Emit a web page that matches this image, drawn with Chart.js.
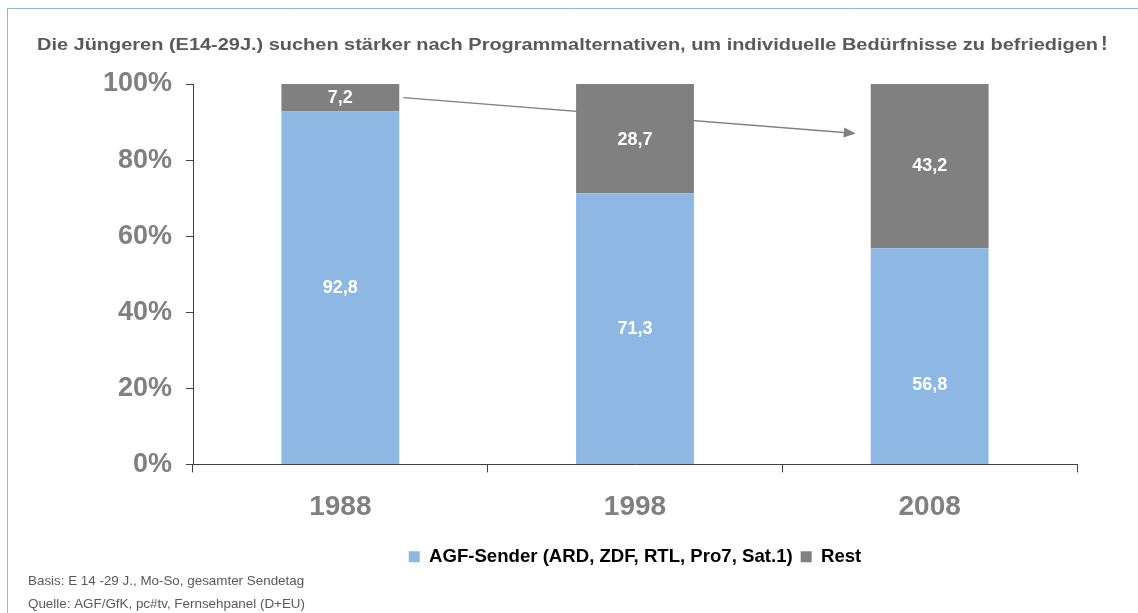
<!DOCTYPE html>
<html><head><meta charset="utf-8">
<script src="https://cdn.jsdelivr.net/npm/chart.js@4/dist/chart.umd.min.js"></script>
<style>html,body{margin:0;padding:0;background:#fff;}#wrap{width:1138px;height:613px;position:relative;}</style>
</head><body><div id="wrap"><canvas id="c" width="1138" height="613"></canvas></div>
<script>
const categories = ['1988', '1998', '2008'];
const agfValues = [92.8, 71.3, 56.8];
const restValues = [7.2, 28.7, 43.2];
const seriesNames = ['AGF-Sender (ARD, ZDF, RTL, Pro7, Sat.1)', 'Rest'];
const yTicks = [0, 20, 40, 60, 80, 100];
const titleText = 'Die Jüngeren (E14-29J.) suchen stärker nach Programmalternativen, um individuelle Bedürfnisse zu befriedigen';
const footnotes = ['Basis: E 14 -29 J., Mo-So, gesamter Sendetag', 'Quelle: AGF/GfK, pc#tv, Fernsehpanel (D+EU)'];

const FONT = '"Liberation Sans", Arial, sans-serif';

const decor = {
  id: 'decor',
  beforeDraw(chart) {
    const ctx = chart.ctx;
    ctx.save();
    ctx.strokeStyle = '#8DB4E2';
    ctx.lineWidth = 1;
    ctx.beginPath();
    ctx.moveTo(7.5, 613);
    ctx.lineTo(7.5, 8.5);
    ctx.lineTo(1138, 8.5);
    ctx.stroke();
    // title (stretched horizontally like the reference)
    ctx.fillStyle = '#595959';
    ctx.textBaseline = 'middle';
    ctx.textAlign = 'left';
    ctx.font = 'bold 16px ' + FONT;
    const w = ctx.measureText(titleText).width;
    const sx = 1061 / w;
    ctx.save();
    ctx.translate(37, 46);
    ctx.scale(sx, 1);
    ctx.fillText(titleText, 0, 0);
    ctx.restore();
    ctx.font = 'bold 20px ' + FONT;
    ctx.fillText('!', 37 + 1061 + 3, 44);
    // footnotes
    ctx.font = '13.4px ' + FONT;
    ctx.fillStyle = '#595959';
    ctx.fillText(footnotes[0], 28, 581);
    ctx.fillText(footnotes[1], 28, 604);
    ctx.restore();
  },
  beforeDatasetsDraw(chart) {
    // arrow from 1988 Rest segment to 2008 bar
    const ctx = chart.ctx;
    const y = chart.scales.y;
    const b0 = chart.getDatasetMeta(1).data[0];
    const b2 = chart.getDatasetMeta(1).data[2];
    const xs = b0.x + b0.width / 2 + 4, ys = y.getPixelForValue(96.4);
    const xe = b2.x - b2.width / 2 - 15, ye = y.getPixelForValue(87.0);
    ctx.save();
    ctx.strokeStyle = '#808080';
    ctx.fillStyle = '#808080';
    ctx.lineWidth = 1.3;
    const ang = Math.atan2(ye - ys, xe - xs);
    const hl = 12, hw = 5;
    const bx = xe - hl * Math.cos(ang), by = ye - hl * Math.sin(ang);
    ctx.beginPath(); ctx.moveTo(xs, ys); ctx.lineTo(bx, by); ctx.stroke();
    ctx.beginPath();
    ctx.moveTo(xe, ye);
    ctx.lineTo(bx + hw * Math.sin(ang), by - hw * Math.cos(ang));
    ctx.lineTo(bx - hw * Math.sin(ang), by + hw * Math.cos(ang));
    ctx.closePath(); ctx.fill();
    ctx.restore();
  },
  afterDatasetsDraw(chart) {
    const ctx = chart.ctx;
    ctx.save();
    ctx.fillStyle = '#ffffff';
    ctx.font = 'bold 18px ' + FONT;
    ctx.textAlign = 'center';
    ctx.textBaseline = 'middle';
    const shifts = [[0, 0, 29], [0, 1, 0]];
    chart.data.datasets.forEach((ds, di) => {
      chart.getDatasetMeta(di).data.forEach((bar, i) => {
        const cy = (bar.y + bar.base) / 2 + shifts[di][i];
        ctx.fillText(ds.data[i].toFixed(1).replace('.', ','), bar.x, cy);
      });
    });
    ctx.restore();
  }
};

new Chart(document.getElementById('c'), {
  type: 'bar',
  data: {
    labels: categories,
    datasets: [
      { label: seriesNames[0], data: agfValues, backgroundColor: '#8DB8E4', barPercentage: 0.4, categoryPercentage: 1 },
      { label: seriesNames[1], data: restValues, backgroundColor: '#808080', barPercentage: 0.4, categoryPercentage: 1 }
    ]
  },
  options: {
    responsive: false,
    animation: false,
    events: [],
    layout: { padding: { left: 20, right: 61, top: 84, bottom: 37 } },
    plugins: {
      title: { display: false },
      tooltip: { enabled: false },
      legend: {
        position: 'bottom',
        fullSize: false,
        labels: {
          boxWidth: 11, boxHeight: 11, padding: 8,
          color: '#000000',
          font: { family: FONT, size: 18.6, weight: 'bold' }
        }
      }
    },
    scales: {
      x: {
        stacked: true,
        grid: { display: true, drawOnChartArea: false, offset: true, tickLength: 8, color: '#404040' },
        border: { display: true, color: '#404040', width: 1 },
        ticks: { color: '#808080', padding: 18, font: { family: FONT, size: 28, weight: 'bold' } },
        afterFit(s) { s.height = 75; }
      },
      y: {
        stacked: true,
        min: 0, max: 100,
        afterBuildTicks(s) { s.ticks = yTicks.map(v => ({ value: v })); },
        grid: { display: true, drawOnChartArea: false, tickLength: 7, color: '#404040' },
        border: { display: true, color: '#404040', width: 1 },
        ticks: { color: '#808080', padding: 14, font: { family: FONT, size: 27, weight: 'bold' }, callback: v => v + '%' },
        afterFit(s) { s.width = 173; }
      }
    }
  },
  plugins: [decor]
});
</script></body></html>
